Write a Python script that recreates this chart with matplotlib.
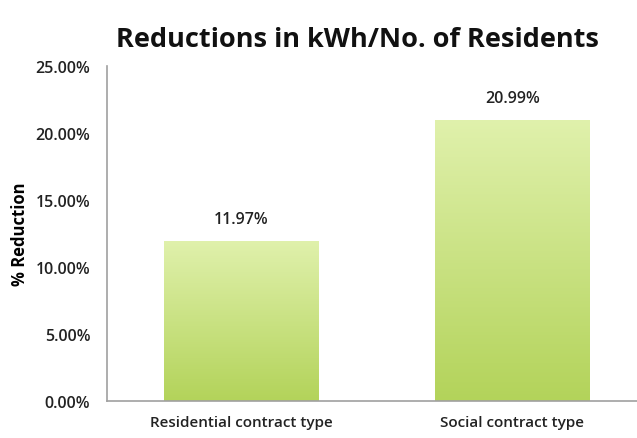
import numpy as np
import matplotlib
matplotlib.use("Agg")
import matplotlib.pyplot as plt
from matplotlib.colors import LinearSegmentedColormap

categories = ["Residential contract type", "Social contract type"]
reductions = [11.97, 20.99]
labels = ["11.97%", "20.99%"]
yticks = [0, 5, 10, 15, 20, 25]

plt.rcParams['font.family'] = ['Open Sans', 'DejaVu Sans']

fig = plt.figure(figsize=(6.37, 4.39), dpi=100)
ax = fig.add_axes([107 / 637, 1 - 402 / 439, 530 / 637, 335 / 439])

x = np.arange(len(categories))
bars = ax.bar(x, reductions, width=0.57, color="none", edgecolor="none")

cmap = LinearSegmentedColormap.from_list("grn", ["#b3d35a", "#e0f1ac"])
grad = np.linspace(0, 1, 256).reshape(-1, 1)
for b in bars:
    x0, y0 = b.get_x(), b.get_y()
    w, h = b.get_width(), b.get_height()
    im = ax.imshow(grad, cmap=cmap, aspect="auto", origin="lower",
                   extent=[x0, x0 + w, y0, y0 + h], zorder=2)
    im.set_clip_path(b)

for xi, v, lab in zip(x, reductions, labels):
    ax.text(xi, v + 1.0, lab, ha="center", va="bottom", fontsize=11.5,
            fontweight=600, color="#222222")

ax.set_xlim(-0.496, 1.46)
ax.set_ylim(0, 25)
ax.set_yticks(yticks)
ax.set_yticklabels([f"{t:.2f}%" for t in yticks], fontsize=11.5, fontweight=600,
                   color="#222222")
ax.set_xticks(x)
ax.set_xticklabels(categories, fontsize=11, fontweight=600, color="#222222")
ax.tick_params(axis="y", length=0, pad=12)
ax.tick_params(axis="x", length=0, pad=10)

for s in ["top", "right"]:
    ax.spines[s].set_visible(False)
for s in ["left", "bottom"]:
    ax.spines[s].set_color("#a0a0a0")
    ax.spines[s].set_linewidth(1.2)

ax.set_ylabel("% Reduction", fontsize=12, fontweight="bold", labelpad=5)
fig.text(357 / 637, 1 - 40 / 439, "Reductions in kWh/No. of Residents", ha="center",
         va="center", fontsize=19.5, fontweight="bold", color="#111111")

fig.savefig("out.png", dpi=100)
